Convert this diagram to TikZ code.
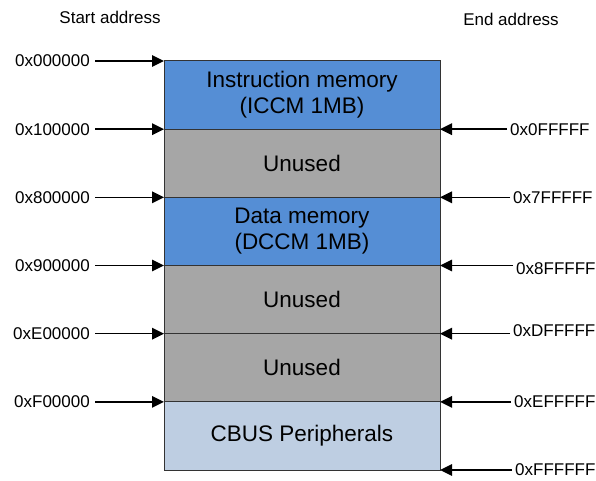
\documentclass[tikz,border=0pt]{standalone}
\usepackage{fontspec}
\setmainfont{Liberation Sans}
\usepackage{tikz}
\usetikzlibrary{arrows.meta, positioning}

\definecolor{memblue}{RGB}{85,142,213}
\definecolor{unusedgray}{RGB}{166,166,166}
\definecolor{periphblue}{RGB}{190,206,226}

\tikzset{
  region/.style={draw=black!80, line width=1pt, minimum width=276pt, minimum height=68.17pt,
    inner sep=0pt, outer sep=0pt, align=center, font=\fontsize{22.5}{26}\selectfont},
  addrlbl/.style={font=\fontsize{17}{20}\selectfont, inner ysep=0pt},
  startlbl/.style={addrlbl, anchor=east, inner xsep=5pt},
  endlbl/.style={addrlbl, anchor=west, inner xsep=3pt},
  addrarrow/.style={line width=1.6pt, -{Triangle[length=12pt, width=11.5pt]}}
}

\begin{document}
\begin{tikzpicture}[x=1pt, y=-1pt]
\useasboundingbox (0,0) rectangle (596,481);

% Headers
\node[addrlbl] (starthdr) at (110,17) {Start address};
\node[addrlbl] (endhdr) at (511,19) {End address};

% Memory map
\node[region, fill=memblue] (iccm) at (302,95.08) {Instruction memory\\(ICCM 1MB)};
\node[region, fill=unusedgray, below=0pt of iccm] (unused1) {Unused};
\node[region, fill=memblue, below=0pt of unused1] (dccm) {Data memory\\(DCCM 1MB)};
\node[region, fill=unusedgray, below=0pt of dccm] (unused2) {Unused};
\node[region, fill=unusedgray, below=0pt of unused2] (unused3) {Unused};
\node[region, fill=periphblue, below=0pt of unused3] (cbus) {CBUS Peripherals};

% Start addresses
\node[startlbl, left=69pt of iccm.north west] (s0) {0x000000};
\node[startlbl, left=69pt of unused1.north west] (s1) {0x100000};
\node[startlbl, left=69pt of dccm.north west] (s2) {0x800000};
\node[startlbl, left=69pt of unused2.north west] (s3) {0x900000};
\node[startlbl, left=69pt of unused3.north west] (s4) {0xE00000};
\node[startlbl, left=69pt of cbus.north west] (s5) {0xF00000};

\draw[addrarrow] (s0.east) -- (iccm.north west);
\draw[addrarrow] (s1.east) -- (unused1.north west);
\draw[addrarrow] (s2.east) -- (dccm.north west);
\draw[addrarrow] (s3.east) -- (unused2.north west);
\draw[addrarrow] (s4.east) -- (unused3.north west);
\draw[addrarrow] (s5.east) -- (cbus.north west);

% End addresses
\node[endlbl, right=67pt of iccm.south east] (e0) {0x0FFFFF};
\node[endlbl, right=70pt of unused1.south east] (e1) {0x7FFFFF};
\node[endlbl, right=73pt of dccm.south east, yshift=-3pt] (e2) {0x8FFFFF};
\node[endlbl, right=70pt of unused2.south east, yshift=3pt] (e3) {0xDFFFFF};
\node[endlbl, right=71pt of unused3.south east] (e4) {0xEFFFFF};
\node[endlbl, right=72pt of cbus.south east] (e5) {0xFFFFFF};

\draw[addrarrow] (iccm.south east -| e0.west) -- (iccm.south east);
\draw[addrarrow] (unused1.south east -| e1.west) -- (unused1.south east);
\draw[addrarrow] (dccm.south east -| e2.west) -- (dccm.south east);
\draw[addrarrow] (unused2.south east -| e3.west) -- (unused2.south east);
\draw[addrarrow] (unused3.south east -| e4.west) -- (unused3.south east);
\draw[addrarrow] (cbus.south east -| e5.west) -- (cbus.south east);

\end{tikzpicture}
\end{document}
